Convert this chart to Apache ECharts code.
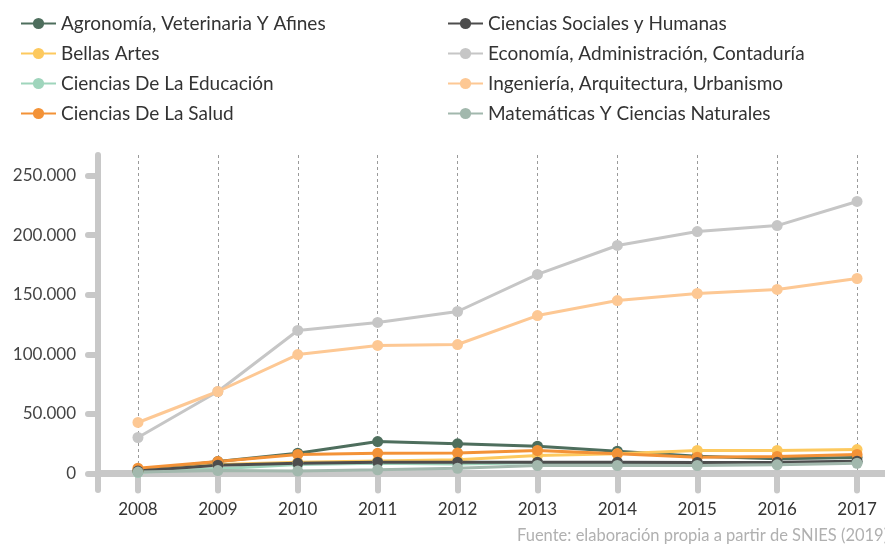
<!DOCTYPE html>
<html>
<head>
<meta charset="utf-8">
<script src="https://cdn.jsdelivr.net/npm/echarts@6/dist/echarts.min.js"></script>
<style>
  html, body { margin: 0; padding: 0; background: #fff; }
  #chart { width: 885px; height: 546px; }
</style>
</head>
<body>
<div id="chart"></div>
<script>
// años
const years = ["2008", "2009", "2010", "2011", "2012", "2013", "2014", "2015", "2016", "2017"];

// valores
const agronomia = [2500, 10000, 17000, 26800, 24900, 22900, 18700, 14500, 12300, 13500];
const bellasArtes = [2000, 7500, 9500, 10500, 11500, 15100, 16500, 19300, 19300, 20100];
const educacion = [1000, 4000, 7500, 8600, 8000, 9000, 9000, 9000, 9000, 9500];
const salud = [4500, 10000, 16000, 17000, 17300, 19300, 16500, 13700, 14300, 16000];
const sociales = [2000, 7000, 8500, 9500, 9500, 9500, 9500, 9300, 9500, 10300];
const economia = [30200, 68800, 120000, 126700, 135900, 167000, 191300, 203000, 208000, 228200];
const ingenieria = [42800, 68800, 99800, 107400, 108200, 132500, 145100, 151000, 154400, 163600];
const matematicas = [1200, 2500, 2000, 3100, 4400, 6700, 6700, 6700, 7300, 8600];

const names = [
  "Agronomía, Veterinaria Y Afines",
  "Bellas Artes",
  "Ciencias De La Educación",
  "Ciencias De La Salud",
  "Ciencias Sociales y Humanas",
  "Economía, Administración, Contaduría",
  "Ingeniería, Arquitectura, Urbanismo",
  "Matemáticas Y Ciencias Naturales"
];
const values = [agronomia, bellasArtes, educacion, salud, sociales, economia, ingenieria, matematicas];
const colors = ["#4e6e5d", "#fdc95e", "#9fd5bc", "#f39237", "#4d4d4d", "#c6c6c6", "#fdc894", "#a2b8ad"];

const FONT = "Lato";
const AXIS_GREY = "#c8c8c8";

let chart = echarts.init(document.getElementById("chart"));

const legendBase = {
  orient: "vertical",
  top: 9,
  itemWidth: 35,
  itemHeight: 14,
  itemGap: 11,
  textStyle: { fontFamily: FONT, fontSize: 19, color: "#333" },
};

let option = {
  animation: false,
  textStyle: { fontFamily: FONT },
  legend: [
    Object.assign({}, legendBase, { left: 15, data: names.slice(0, 4) }),
    Object.assign({}, legendBase, { left: 442, data: names.slice(4) }),
  ],
  title: {
    text: "Fuente: elaboración propia a partir de SNIES (2019)",
    left: 512,
    top: 522,
    textStyle: { fontFamily: FONT, fontSize: 16.5, fontWeight: "normal", color: "#b0b0b0" },
  },
  grid: [
    // grilla principal de datos
    { left: 98, width: 799, top: 175.5, bottom: 72.5, outerBoundsMode: "none" },
    // grilla de fondo: línea vertical del eje y líneas punteadas
    { left: 98, width: 799, top: 155, bottom: 56, outerBoundsMode: "none" },
  ],
  xAxis: [
    {
      type: "category",
      gridIndex: 0,
      data: years,
      boundaryGap: true,
      z: 3,
      axisLine: {
        lineStyle: { color: AXIS_GREY, width: 7 },
      },
      axisTick: {
        show: true,
        alignWithLabel: true,
        length: 17,
        lineStyle: { color: AXIS_GREY, width: 6, cap: "round" },
      },
      axisLabel: {
        margin: 28,
        fontFamily: FONT,
        fontSize: 17,
        color: "#333",
      },
      splitLine: { show: false },
    },
    {
      type: "category",
      gridIndex: 1,
      data: years,
      boundaryGap: true,
      axisLine: { show: false },
      axisTick: { show: false },
      axisLabel: { show: false },
      splitLine: {
        show: true,
        alignWithLabel: true,
        lineStyle: { color: "#9a9a9a", type: [3, 3], width: 1 },
      },
    },
  ],
  yAxis: [
    {
      type: "value",
      gridIndex: 0,
      min: 0,
      max: 250000,
      interval: 50000,
      z: 3,
      axisLine: { show: false },
      axisTick: {
        show: true,
        length: 10,
        lineStyle: { color: AXIS_GREY, width: 6, cap: "round" },
      },
      axisLabel: {
        margin: 22,
        fontFamily: FONT,
        fontSize: 17,
        color: "#444",
        formatter: (v) => v.toLocaleString("de-DE"),
      },
      splitLine: { show: false },
    },
    {
      type: "value",
      gridIndex: 1,
      min: 0,
      max: 1,
      axisLine: {
        show: true,
        lineStyle: { color: AXIS_GREY, width: 6, cap: "round" },
      },
      axisTick: { show: false },
      axisLabel: { show: false },
      splitLine: { show: false },
    },
  ],
  series: names.map((name, i) => ({
    name: name,
    type: "line",
    xAxisIndex: 0,
    yAxisIndex: 0,
    data: values[i],
    symbol: "circle",
    symbolSize: 11,
    color: colors[i],
    lineStyle: { width: 3, color: colors[i] },
    itemStyle: { color: colors[i] },
  })),
};

chart.setOption(option);
</script>
</body>
</html>
